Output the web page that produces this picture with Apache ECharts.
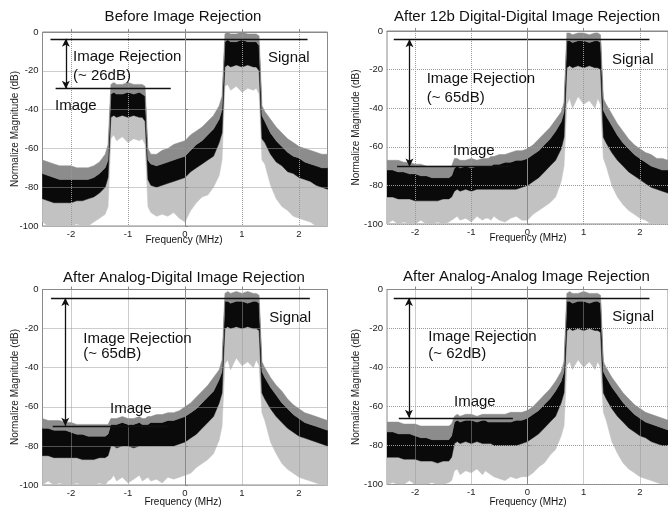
<!DOCTYPE html>
<html><head><meta charset="utf-8">
<script src="https://cdn.jsdelivr.net/npm/echarts@6/dist/echarts.min.js"></script>
<style>html,body{margin:0;padding:0;background:#fff}#c{width:668px;height:509px}</style>
</head><body><div id="c"></div>
<script>
// Frequency samples (MHz)
const freq = [-2.5,-2.4,-2.3,-2.2,-2.1,-2.0,-1.9,-1.8,-1.7,-1.6,-1.5,-1.4,-1.35,-1.3,-1.25,-1.2,-1.1,-1.0,-0.9,-0.8,-0.75,-0.7,-0.65,-0.6,-0.5,-0.4,-0.3,-0.2,-0.1,0,0.1,0.2,0.3,0.4,0.5,0.6,0.65,0.7,0.75,0.8,0.9,1.0,1.1,1.2,1.25,1.3,1.35,1.4,1.5,1.6,1.7,1.8,1.9,2.0,2.1,2.2,2.3,2.4,2.5];
const xTicks = [-2,-1,0,1,2];

// Panel 1: Before Image Rejection (dB envelopes)
const p1Hi  = [-66,-67,-68,-69,-69,-69,-70,-70,-70,-69,-67,-63,-58,-27,-26,-27,-27,-26,-27,-27,-27,-28,-60,-63,-63,-61,-60,-58,-57,-56,-53,-51,-49,-46,-43,-38,-33,-1,0,-1,-1,0,-1,-1,-1,-2,-38,-41,-45,-49,-52,-55,-57,-59,-60,-61,-62,-63,-63];
const p1CHi = [-73,-74,-75,-76,-76,-76,-76,-76,-76,-75,-73,-70,-66,-32,-31,-32,-32,-31,-32,-31,-32,-33,-66,-68,-69,-68,-67,-66,-65,-64,-61,-58,-56,-53,-50,-45,-40,-5,-4,-5,-5,-4,-5,-5,-5,-7,-43,-46,-52,-56,-59,-62,-64,-65,-67,-68,-69,-70,-70];
const p1CLo = [-86,-87,-88,-88,-88,-88,-87,-87,-86,-85,-83,-80,-75,-44,-43,-44,-43,-44,-43,-44,-44,-46,-76,-79,-80,-79,-78,-77,-76,-75,-72,-70,-68,-66,-64,-57,-52,-18,-17,-18,-17,-18,-17,-18,-18,-20,-55,-57,-63,-67,-69,-72,-73,-75,-76,-77,-79,-80,-81];
const p1Lo  = [-98,-100,-100,-100,-100,-100,-99,-100,-100,-98,-96,-94,-90,-55,-53,-56,-54,-57,-55,-56,-55,-58,-90,-93,-95,-94,-95,-93,-96,-98,-92,-88,-85,-84,-80,-74,-66,-28,-27,-30,-28,-31,-29,-30,-29,-32,-66,-68,-79,-86,-90,-92,-95,-96,-97,-98,-100,-100,-100];

// Panel 2: After 12b Digital-Digital Image Rejection
const p2Hi  = [-67,-67,-67,-68,-68,-69,-69,-70,-70,-70,-70,-70,-70,-66,-66,-67,-67,-66,-67,-66,-66,-66,-65,-65,-64,-64,-63,-62,-62,-61,-59,-56,-53,-50,-46,-42,-37,-1,-1,-2,-1,-1,-2,-1,-1,-2,-35,-38,-43,-48,-52,-56,-59,-61,-63,-64,-66,-66,-67];
const p2CHi = [-72,-72,-73,-73,-74,-74,-75,-75,-76,-76,-76,-76,-75,-71,-70,-71,-70,-71,-70,-70,-70,-70,-70,-69,-69,-68,-68,-67,-67,-66,-64,-62,-59,-56,-52,-47,-42,-5,-5,-6,-5,-5,-6,-5,-5,-6,-41,-44,-49,-54,-58,-61,-64,-66,-68,-70,-71,-72,-72];
const p2CLo = [-86,-86,-87,-87,-87,-88,-88,-88,-88,-88,-87,-87,-86,-83,-82,-83,-82,-83,-82,-82,-82,-82,-82,-82,-82,-82,-82,-82,-81,-80,-78,-76,-73,-70,-67,-61,-55,-19,-18,-19,-18,-19,-18,-19,-19,-20,-55,-58,-63,-67,-70,-73,-75,-77,-79,-81,-82,-83,-84];
const p2Lo  = [-100,-98,-100,-99,-100,-100,-98,-100,-100,-99,-100,-99,-98,-97,-96,-98,-97,-99,-96,-98,-97,-97,-98,-96,-98,-99,-97,-96,-98,-98,-95,-93,-91,-89,-86,-78,-70,-38,-35,-40,-34,-38,-36,-40,-35,-38,-66,-70,-80,-86,-90,-93,-95,-97,-98,-100,-100,-100,-100];

// Panel 3: After Analog-Digital Image Rejection
const p3Hi  = [-66,-67,-67,-67,-68,-68,-69,-69,-69,-69,-69,-69,-69,-66,-66,-66,-65,-66,-66,-65,-66,-66,-65,-65,-64,-64,-63,-63,-62,-60,-58,-55,-52,-49,-45,-41,-36,-2,-1,-2,-1,-2,-1,-2,-2,-3,-37,-40,-45,-49,-52,-56,-59,-61,-63,-64,-65,-66,-67];
const p3CHi = [-71,-71,-72,-72,-72,-73,-74,-74,-75,-75,-75,-75,-74,-69,-69,-69,-68,-69,-69,-68,-69,-69,-69,-68,-68,-68,-67,-67,-66,-65,-63,-61,-58,-55,-52,-46,-42,-6,-6,-7,-6,-6,-7,-6,-6,-7,-42,-45,-50,-54,-58,-61,-64,-66,-68,-69,-70,-71,-72];
const p3CLo = [-85,-85,-86,-86,-86,-86,-86,-87,-87,-87,-86,-86,-85,-80,-80,-81,-80,-80,-81,-80,-80,-80,-80,-80,-80,-80,-80,-80,-79,-78,-76,-74,-71,-68,-65,-58,-53,-20,-19,-20,-19,-20,-19,-20,-20,-21,-53,-56,-61,-65,-68,-71,-73,-75,-76,-77,-78,-79,-80];
const p3Lo  = [-100,-98,-100,-99,-100,-100,-99,-100,-100,-100,-99,-100,-98,-97,-95,-98,-96,-99,-97,-95,-98,-97,-96,-98,-97,-99,-96,-97,-96,-95,-94,-91,-89,-87,-84,-77,-70,-38,-36,-41,-35,-39,-37,-40,-36,-39,-63,-67,-78,-84,-89,-92,-94,-96,-97,-98,-99,-100,-100];

// Panel 4: After Analog-Analog Image Rejection
const p4Hi  = [-68,-68,-68,-69,-69,-69,-70,-70,-70,-70,-70,-70,-69,-65,-64,-65,-64,-64,-65,-64,-64,-64,-64,-64,-64,-64,-63,-63,-63,-62,-60,-57,-54,-51,-47,-42,-37,-2,-1,-2,-2,-1,-2,-2,-2,-3,-37,-40,-45,-49,-53,-56,-59,-61,-63,-64,-65,-66,-67];
const p4CHi = [-73,-73,-74,-74,-74,-75,-76,-76,-77,-77,-77,-77,-75,-68,-67,-68,-67,-67,-68,-67,-67,-68,-68,-68,-68,-68,-68,-67,-67,-66,-64,-62,-59,-56,-52,-47,-42,-6,-6,-7,-6,-6,-7,-6,-6,-7,-42,-45,-50,-54,-58,-61,-64,-66,-68,-69,-70,-71,-72];
const p4CLo = [-86,-86,-86,-87,-87,-87,-88,-88,-88,-89,-88,-88,-86,-79,-78,-79,-78,-79,-78,-79,-79,-79,-79,-80,-80,-80,-80,-80,-79,-78,-76,-74,-71,-68,-65,-58,-53,-21,-20,-21,-20,-21,-20,-21,-21,-22,-53,-56,-61,-65,-68,-71,-73,-75,-76,-78,-79,-80,-80];
const p4Lo  = [-100,-99,-100,-100,-98,-100,-100,-100,-99,-100,-100,-99,-98,-93,-92,-95,-93,-94,-92,-95,-93,-94,-95,-96,-97,-98,-96,-97,-96,-96,-94,-91,-89,-85,-82,-75,-70,-39,-37,-41,-36,-40,-37,-41,-37,-40,-63,-67,-78,-84,-89,-92,-94,-96,-97,-98,-99,-100,-100];

// Annotations
const titles = ['Before Image Rejection','After 12b Digital-Digital Image Rejection','After Analog-Digital Image Rejection','After Analog-Analog Image Rejection'];
const rejectionText = ['(~ 26dB)','(~ 65dB)','(~ 65dB)','(~ 62dB)'];
const signalLevel = [-3.5,-4.3,-4.3,-4.3];
const signalFrom = [-2.36,-2.38,-2.35,-2.38];
const signalTo = [2.15,2.17,2.19,2.17];
const imageLevel = [-29.2,-70.2,-69.7,-65.8];
const imageFrom = [-2.27,-2.32,-2.32,-2.29];
const imageTo = [-0.25,-0.32,-0.29,-0.26];
const arrowX = [-2.09,-2.1,-2.1,-2.11];

const panels = [[p1Lo,p1CLo,p1CHi,p1Hi],[p2Lo,p2CLo,p2CHi,p2Hi],[p3Lo,p3CLo,p3CHi,p3Hi],[p4Lo,p4CLo,p4CHi,p4Hi]];

const grids = [
  {left:42.5, top:32, width:285, height:194},
  {left:387, top:31, width:284, height:193},
  {left:42.5, top:289.5, width:285, height:195.5},
  {left:387, top:289.5, width:284, height:195}
];

const FONT = '"Liberation Sans", Arial, sans-serif';
const bandColors = ['#c2c2c2', '#0a0a0a', '#8c8c8c'];
const xAxes = [], yAxes = [], series = [];
grids.forEach((g,i)=>{
  g.show = true; g.borderColor = '#8a8a8a'; g.borderWidth = 1; g.backgroundColor = '#fff'; g.containLabel = false;
  xAxes.push({gridIndex:i, type:'value', min:-2.5, max:2.5, z:5,
    axisLine:{show:true, lineStyle:{color:'#8a8a8a', width:1}},
    axisTick:{show:true, inside:true, length:3, customValues:xTicks, lineStyle:{color:'#8a8a8a'}},
    axisLabel:{customValues:xTicks, fontSize:9.5, color:'#222', fontFamily:FONT, margin:3},
    splitLine:{show:true, lineStyle:{type:'dotted', color:'#9a9a9a', width:1}}});
  yAxes.push({gridIndex:i, type:'value', min:-100, max:0, interval:20, z:5,
    axisLine:{show:true, lineStyle:{color:'#8a8a8a', width:1}},
    axisTick:{show:true, inside:true, length:3, lineStyle:{color:'#8a8a8a'}},
    axisLabel:{fontSize:9.5, color:'#222', fontFamily:FONT, margin:4},
    splitLine:{show:true, lineStyle:{type:'dotted', color:'#9a9a9a', width:1}}});
  const env = panels[i]; // [lo, coreLo, coreHi, hi]
  series.push({type:'custom', xAxisIndex:i, yAxisIndex:i, silent:true, animation:false, z:2,
    clip:true,
    data:[[0,0],[1,0],[2,0]],
    renderItem:(params, api)=>{
      const b = params.dataIndex;
      const lower = env[b], upper = env[b+1];
      const pts = [];
      for (let k=0;k<freq.length;k++) pts.push(api.coord([freq[k], upper[k]]));
      for (let k=freq.length-1;k>=0;k--) pts.push(api.coord([freq[k], lower[k]]));
      return {type:'polygon', shape:{points:pts}, style:{fill:bandColors[b], stroke:bandColors[b], lineWidth:0.5}};
    },
    markLine:{silent:true, animation:false, symbol:['none','none'], label:{show:false},
      lineStyle:{color:'#111', width:1.3, type:'solid'},
      data:[
        [{coord:[signalFrom[i], signalLevel[i]]},{coord:[signalTo[i], signalLevel[i]]}],
        [{coord:[imageFrom[i], imageLevel[i]]},{coord:[imageTo[i], imageLevel[i]]}],
        [{coord:[arrowX[i], signalLevel[i]], symbol:'arrow', symbolSize:[6,8]},{coord:[arrowX[i], imageLevel[i]], symbol:'arrow', symbolSize:[6,8]}]
      ]}
  });
});

// text layout (pixel positions)
const txt = (x,y,t,size,align)=>({type:'text', x:x, y:y, z:10,
  style:{text:t, fontSize:size, fontFamily:FONT, fill:'#111', align:align||'left', verticalAlign:'middle'}});
const gfx = [];
const titlePos = [[183,17],[527,17],[184,277.7],[526.5,276.7]];
const irPos = [[73,57,76],[426.7,79,98],[83.3,339,354.3],[428.3,337.3,354.3]];
const imgPos = [[55,106],[453,151],[110,409],[454,401.7]];
const sigPos = [[268,58],[612,60],[269.3,317.7],[612.3,317.3]];
const yNamePos = [[15,129],[356,127.5],[15,387],[356,387]];
const xNamePos = [[184,240],[528,238.3],[183,502.3],[528,502.3]];
for (let i=0;i<4;i++){
  gfx.push(txt(titlePos[i][0], titlePos[i][1], titles[i], 15, 'center'));
  gfx.push(txt(irPos[i][0], irPos[i][1], 'Image Rejection', 15));
  gfx.push(txt(irPos[i][0], irPos[i][2], rejectionText[i], 15));
  gfx.push(txt(imgPos[i][0], imgPos[i][1], 'Image', 15));
  gfx.push(txt(sigPos[i][0], sigPos[i][1], 'Signal', 15));
  gfx.push(txt(xNamePos[i][0], xNamePos[i][1], 'Frequency (MHz)', 10, 'center'));
  gfx.push({type:'text', x:yNamePos[i][0], y:yNamePos[i][1], rotation:Math.PI/2, z:10,
    style:{text:'Normalize Magnitude (dB)', fontSize:10, fontFamily:FONT, fill:'#222', align:'center', verticalAlign:'middle'}});
}

const chart = echarts.init(document.getElementById('c'), null, {renderer:'canvas'});
chart.setOption({animation:false, backgroundColor:'#fff', grid:grids, xAxis:xAxes, yAxis:yAxes, series:series, graphic:gfx});
</script></body></html>
